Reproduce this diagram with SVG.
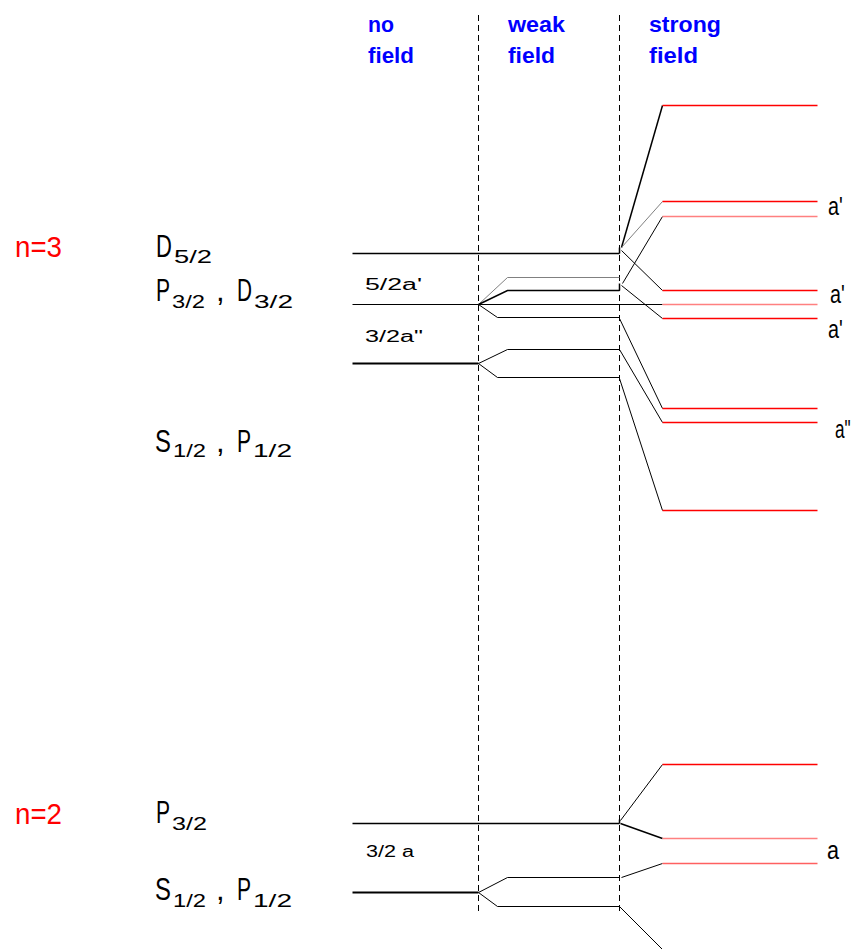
<svg xmlns="http://www.w3.org/2000/svg" width="854" height="949" viewBox="0 0 854 949">
<style>
text{font-family:"Liberation Sans",Arial,sans-serif}
.hdr{fill:#0000ff;font-size:22px;font-weight:bold}
.n{fill:#ff0000;font-size:29px}
.cap{fill:#000;font-size:31px}
.sub{fill:#000;font-size:18px}
.sm{fill:#000;font-size:16px}
.lab{fill:#000;font-size:26px}
.dash{stroke:#000;stroke-width:1;stroke-dasharray:6 4;fill:none}
.k{stroke:#000;stroke-width:1;fill:none}
.kb{stroke:#000;stroke-width:1.5;fill:none}
.kt{stroke:#000;stroke-width:2.2;fill:none}
.g{stroke:#808080;stroke-width:1;fill:none}
.r{stroke:#ff0000;stroke-width:1.6;fill:none}
.p{stroke:#ff8080;stroke-width:1.4;fill:none}
</style>
<rect width="854" height="949" fill="#fff"/>
<g id="columns">
<line class="dash" x1="478.5" y1="15" x2="478.5" y2="915"/>
<line class="dash" x1="619.5" y1="15" x2="619.5" y2="915"/>
<text class="hdr" x="368" y="32" textLength="26" lengthAdjust="spacingAndGlyphs">no</text>
<text class="hdr" x="368" y="63" textLength="46" lengthAdjust="spacingAndGlyphs">field</text>
<text class="hdr" x="508" y="32" textLength="57" lengthAdjust="spacingAndGlyphs">weak</text>
<text class="hdr" x="508" y="63" textLength="47" lengthAdjust="spacingAndGlyphs">field</text>
<text class="hdr" x="649" y="32" textLength="72" lengthAdjust="spacingAndGlyphs">strong</text>
<text class="hdr" x="649" y="63" textLength="49" lengthAdjust="spacingAndGlyphs">field</text>
</g>
<g id="n3-labels">
<text class="n" x="15" y="257" textLength="47" lengthAdjust="spacingAndGlyphs">n=3</text>
<text class="cap" transform="translate(156,257) scale(0.71,1)">D</text>
<text class="sub" x="174" y="263" textLength="38" lengthAdjust="spacingAndGlyphs">5/2</text>
<text class="cap" transform="translate(156,301) scale(0.68,1)">P</text>
<text class="sub" x="172" y="308" textLength="33" lengthAdjust="spacingAndGlyphs">3/2</text>
<text class="cap" x="216" y="301">,</text>
<text class="cap" transform="translate(237,301) scale(0.67,1)">D</text>
<text class="sub" x="254" y="308" textLength="39" lengthAdjust="spacingAndGlyphs">3/2</text>
<text class="cap" transform="translate(155,452) scale(0.77,1)">S</text>
<text class="sub" x="173" y="457" textLength="33" lengthAdjust="spacingAndGlyphs">1/2</text>
<text class="cap" x="216" y="452">,</text>
<text class="cap" transform="translate(237,452) scale(0.68,1)">P</text>
<text class="sub" x="253" y="457" textLength="39" lengthAdjust="spacingAndGlyphs">1/2</text>
<text class="sm" x="365" y="290" textLength="57" lengthAdjust="spacingAndGlyphs">5/2a'</text>
<text class="sm" x="365" y="342" textLength="58" lengthAdjust="spacingAndGlyphs">3/2a"</text>
<text class="lab" transform="translate(828,215) scale(0.76,1)">a'</text>
<text class="lab" transform="translate(830,303) scale(0.76,1)">a'</text>
<text class="lab" transform="translate(828,338) scale(0.76,1)">a'</text>
<text class="lab" transform="translate(835,438) scale(0.66,1)">a"</text>
</g>
<g id="n2-labels">
<text class="n" x="15" y="824" textLength="47" lengthAdjust="spacingAndGlyphs">n=2</text>
<text class="cap" transform="translate(156,823) scale(0.68,1)">P</text>
<text class="sub" x="172" y="830" textLength="35" lengthAdjust="spacingAndGlyphs">3/2</text>
<text class="cap" transform="translate(155,900) scale(0.77,1)">S</text>
<text class="sub" x="173" y="907" textLength="33" lengthAdjust="spacingAndGlyphs">1/2</text>
<text class="cap" x="216" y="900">,</text>
<text class="cap" transform="translate(237,900) scale(0.68,1)">P</text>
<text class="sub" x="253" y="907" textLength="39" lengthAdjust="spacingAndGlyphs">1/2</text>
<text class="sm" x="366" y="857" textLength="48" lengthAdjust="spacingAndGlyphs">3/2 a</text>
<text class="lab" transform="translate(827,859) scale(0.83,1)">a</text>
</g>
<g id="connectors" transform="translate(0.5,0.5)">
<line class="kb" x1="352" y1="253" x2="619" y2="253"/>
<line class="k" x1="352" y1="304" x2="662" y2="304"/>
<line class="kt" x1="352" y1="363" x2="478" y2="363"/>
<polyline class="g" points="478,304 507,277 619,277"/>
<polyline class="kb" points="478,304 507,290 619,290"/>
<polyline class="k" points="478,304 497,317 619,317"/>
<polyline class="k" points="478,363 507,349 619,349"/>
<polyline class="k" points="478,363 497,377 619,377"/>
<line class="kb" x1="619" y1="253" x2="619" y2="247"/>
<line class="kb" x1="619" y1="290" x2="619" y2="283"/>
<line class="kb" x1="621" y1="247" x2="662" y2="105"/>
<line class="g" x1="621" y1="247" x2="662" y2="201"/>
<line class="k" x1="621" y1="250" x2="662" y2="290"/>
<line class="k" x1="622" y1="283" x2="662" y2="216"/>
<line class="k" x1="621" y1="285" x2="662" y2="318"/>
<line class="k" x1="619" y1="318" x2="662" y2="408"/>
<line class="k" x1="619" y1="349" x2="662" y2="422"/>
<line class="k" x1="619" y1="378" x2="662" y2="510"/>
<line class="r" x1="662" y1="105" x2="817" y2="105"/>
<line class="r" x1="662" y1="201" x2="817" y2="201"/>
<line class="p" x1="662" y1="216" x2="817" y2="216"/>
<line class="r" x1="662" y1="290" x2="817" y2="290"/>
<line class="p" x1="662" y1="304" x2="817" y2="304"/>
<line class="r" x1="662" y1="318" x2="817" y2="318"/>
<line class="r" x1="662" y1="408" x2="817" y2="408"/>
<line class="r" x1="662" y1="422" x2="817" y2="422"/>
<line class="r" x1="662" y1="510" x2="817" y2="510"/>
<line class="kb" x1="352" y1="823" x2="619" y2="823"/>
<line class="kt" x1="352" y1="892" x2="478" y2="892"/>
<polyline class="k" points="478,892 507,877 619,877"/>
<polyline class="k" points="478,892 497,906 619,906"/>
<line class="kb" x1="619" y1="823" x2="619" y2="819"/>
<line class="k" x1="620" y1="820" x2="662" y2="764"/>
<line class="kb" x1="620" y1="823" x2="662" y2="838"/>
<line class="k" x1="621" y1="877" x2="662" y2="863"/>
<line class="k" x1="619" y1="906" x2="662" y2="949"/>
<line class="r" x1="662" y1="764" x2="817" y2="764"/>
<line class="p" x1="662" y1="838" x2="817" y2="838"/>
<line class="p" x1="662" y1="863" x2="817" y2="863" style="stroke:#ff6060"/>
</g>
</svg>
